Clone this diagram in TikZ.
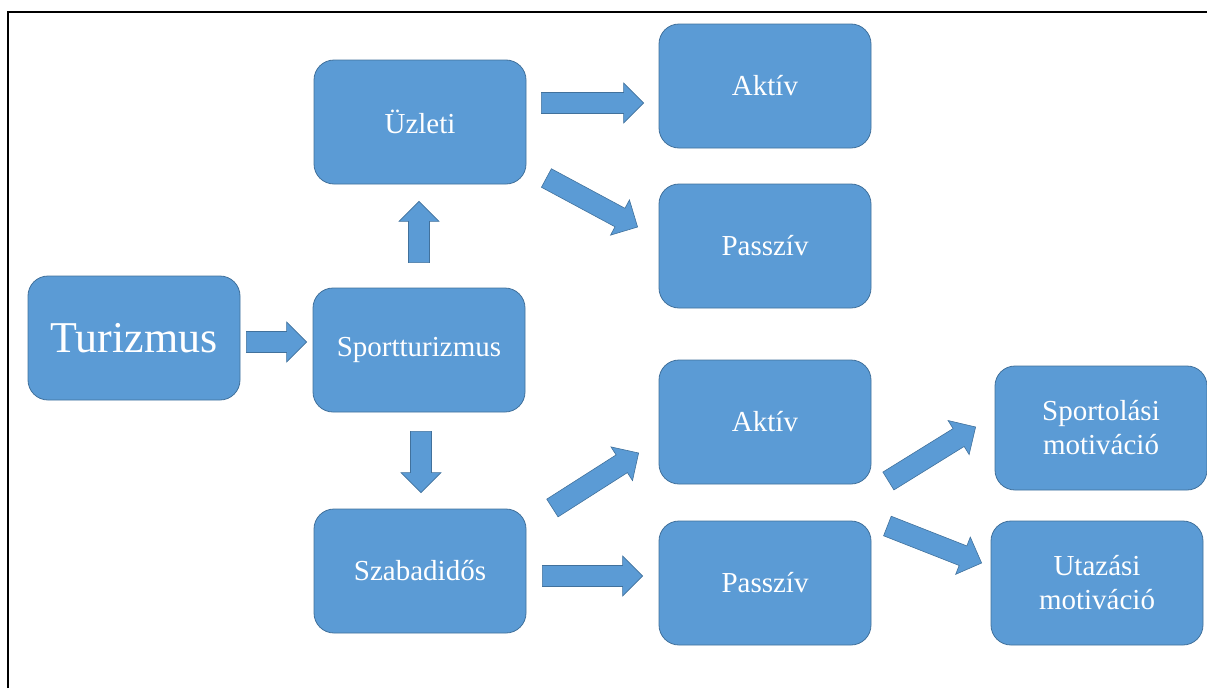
\documentclass[tikz,border=0pt]{standalone}
\usepackage{fontspec}
\setmainfont{Liberation Serif}
\usetikzlibrary{calc}
\definecolor{boxblue}{HTML}{5B9BD5}
\definecolor{edgeblue}{HTML}{41719C}
\begin{document}
\begin{tikzpicture}[x=1pt,y=-1pt,
  box/.style={draw=edgeblue, line width=0.8pt, fill=boxblue, rounded corners=20pt,
    minimum width=212pt, minimum height=124pt, inner sep=0pt, text=white,
    align=center, font=\fontsize{29}{34}\selectfont},
  % block arrow: shaft 21pt wide, head 40pt wide and 20pt long
  blk/.style={draw=edgeblue, fill=boxblue, line width=0.6pt, line join=miter,
    to path={
      let \p1=(\tikztostart), \p2=(\tikztotarget) in
      ($(\p1)!10.5pt!90:(\p2)$)
      -- ($(\p2)!20pt!(\p1) + (\p1)!10.5pt!90:(\p2) - (\p1)$)
      -- ($(\p2)!20pt!(\p1) + (\p1)!20pt!90:(\p2) - (\p1)$)
      -- (\p2)
      -- ($(\p2)!20pt!(\p1) + (\p1)!20pt!-90:(\p2) - (\p1)$)
      -- ($(\p2)!20pt!(\p1) + (\p1)!10.5pt!-90:(\p2) - (\p1)$)
      -- ($(\p1)!10.5pt!-90:(\p2)$) -- cycle}}]

\useasboundingbox (0,0) rectangle (1207,688);

% frame
\draw[line width=2pt] (8,688) -- (8,12) -- (1207,12);

% boxes
\node[box, font=\fontsize{44}{50}\selectfont] (tur) at (134,338) {Turizmus};
\node[box] (sp) at (419,350) {Sportturizmus};
\node[box] (uz) at (420,122) {Üzleti};
\node[box] (sz) at (420,571) {Szabadidős};
\node[box] (ak1) at (765,86) {Aktív};
\node[box] (pa1) at (765,246) {Passzív};
\node[box] (ak2) at (765,422) {Aktív};
\node[box] (pa2) at (765,583) {Passzív};
\node[box] (sm) at (1101,428) {Sportolási\\motiváció};
\node[box] (um) at (1097,583) {Utazási\\motiváció};

% block arrows
\draw[blk] ($(tur.east)+(6,4)$) to ($(sp.west)+(-6,-8)$);
\draw[blk] ($(sp.north)+(0,-25)$) to ($(uz.south)+(-1,17)$);
\draw[blk] ($(sp.south)+(2,19)$) to ($(sz.north)+(1,-16)$);
\draw[blk] ($(uz.east)+(15,-19)$) to ($(ak1.west)+(-15,17)$);
\draw[blk] ($(uz.east)+(20,56)$) to ($(pa1.west)+(-21,-19)$);
\draw[blk] ($(sz.east)+(26,-63)$) to ($(ak2.west)+(-20,31)$);
\draw[blk] ($(sz.east)+(16,5)$) to ($(pa2.west)+(-16,-7)$);
\draw[blk] ($(ak2.east)+(17,59)$) to ($(sm.west)+(-19,-1)$);
\draw[blk] ($(pa2.east)+(16,-57)$) to ($(um.west)+(-9,-20)$);
\end{tikzpicture}
\end{document}
